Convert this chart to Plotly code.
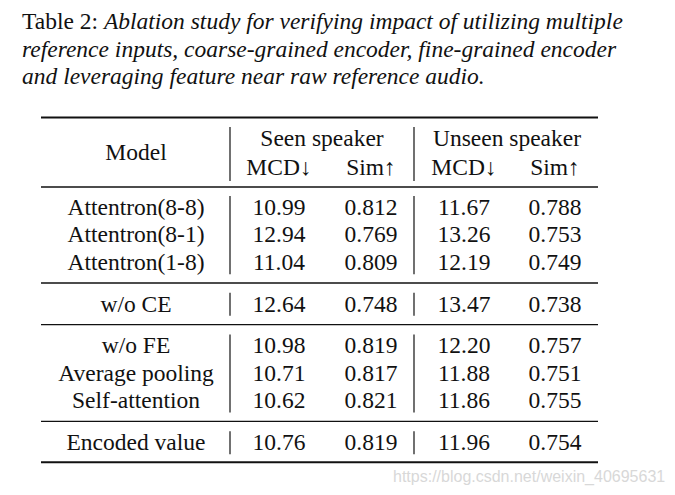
import plotly.graph_objects as go

# ---------------- data ----------------
caption_label = "Table 2:"
caption_lines = [
    "Ablation study for verifying impact of utilizing multiple",
    "reference inputs, coarse-grained encoder, fine-grained encoder",
    "and leveraging feature near raw reference audio.",
]
header_model = "Model"
group_headers = ["Seen speaker", "Unseen speaker"]
metric_headers = ["MCD↓", "Sim↑", "MCD↓", "Sim↑"]

models = ["Attentron(8-8)", "Attentron(8-1)", "Attentron(1-8)",
          "w/o CE",
          "w/o FE", "Average pooling", "Self-attention",
          "Encoded value"]
row_groups = [0, 0, 0, 1, 2, 2, 2, 3]
seen_mcd = ["10.99", "12.94", "11.04", "12.64", "10.98", "10.71", "10.62", "10.76"]
seen_sim = ["0.812", "0.769", "0.809", "0.748", "0.819", "0.817", "0.821", "0.819"]
unseen_mcd = ["11.67", "13.26", "12.19", "13.47", "12.20", "11.88", "11.86", "11.96"]
unseen_sim = ["0.788", "0.753", "0.749", "0.738", "0.757", "0.751", "0.755", "0.754"]
watermark = "https://blog.csdn.net/weixin_40695631"

# ---------------- layout / style ----------------
W, H = 675, 495
PAGE_MARGIN = 8  # default body margin of the html page
SERIF = "Liberation Serif"
FS = 23.5
CAP_FS = 23.5
INK = "#111111"
col_x = [136, 279, 371, 464, 555]
group_x = [322, 507]
vline_x = [230, 414]
tbl_left, tbl_right = 41, 598
row0_y, row_step, group_gap = 209, 27.6, 14
hdr1_y, hdr2_y = 140, 169

row_y = [row0_y + row_step * i + group_gap * g for i, g in enumerate(row_groups)]

fig = go.Figure()

columns = [models, seen_mcd, seen_sim, unseen_mcd, unseen_sim]
for cx, vals in zip(col_x, columns):
    fig.add_trace(go.Scatter(
        x=[cx] * len(vals), y=row_y, text=vals, mode="text",
        textposition="middle center",
        textfont=dict(family=SERIF, size=FS, color=INK),
        hoverinfo="skip", showlegend=False))

# header
fig.add_trace(go.Scatter(
    x=[col_x[0]] + group_x, y=[(hdr1_y + hdr2_y) / 2, hdr1_y, hdr1_y],
    text=[header_model] + group_headers, mode="text",
    textposition="middle center",
    textfont=dict(family=SERIF, size=FS, color=INK),
    hoverinfo="skip", showlegend=False))
fig.add_trace(go.Scatter(
    x=col_x[1:], y=[hdr2_y] * 4, text=metric_headers, mode="text",
    textposition="middle center",
    textfont=dict(family=SERIF, size=FS, color=INK),
    hoverinfo="skip", showlegend=False))

shapes = []
def hrule(y, w):
    shapes.append(dict(type="line", xref="x", yref="y", x0=tbl_left, x1=tbl_right,
                       y0=y, y1=y, line=dict(color=INK, width=w)))
def vrule(y0, y1):
    for vx in vline_x:
        shapes.append(dict(type="line", xref="x", yref="y", x0=vx, x1=vx,
                           y0=y0, y1=y1, line=dict(color=INK, width=1.2)))

hrule(117.5, 2)
hrule(187, 1.4)
vrule(127, 181)
ngroups = max(row_groups) + 1
for g in range(ngroups):
    ys = [y for y, gg in zip(row_y, row_groups) if gg == g]
    vrule(ys[0] - 13, ys[-1] + 10)
    if g < ngroups - 1:
        nxt = [y for y, gg in zip(row_y, row_groups) if gg == g + 1][0]
        hrule((ys[-1] + nxt) / 2 - 2, 1.4)
hrule(row_y[-1] + 18, 2)

annotations = []
cap_y = [21, 48.5, 76]
annotations.append(dict(
    x=20, y=cap_y[0], xref="x", yref="y", xanchor="left", yanchor="middle",
    showarrow=False,
    text=caption_label + " <i>" + caption_lines[0] + "</i>",
    font=dict(family=SERIF, size=CAP_FS, color=INK)))
for ln, cy in zip(caption_lines[1:], cap_y[1:]):
    annotations.append(dict(
        x=20, y=cy, xref="x", yref="y", xanchor="left", yanchor="middle",
        showarrow=False, text="<i>" + ln + "</i>",
        font=dict(family=SERIF, size=CAP_FS, color=INK)))
annotations.append(dict(
    x=667, y=477, xref="x", yref="y", xanchor="right", yanchor="middle",
    showarrow=False, text=watermark,
    font=dict(family="Liberation Sans", size=16, color="#d8d8d8")))

PW, PH = W - 2 * PAGE_MARGIN, H - 2 * PAGE_MARGIN
fig.update_layout(
    width=PW, height=PH, margin=dict(l=0, r=0, t=0, b=0),
    paper_bgcolor="white", plot_bgcolor="white",
    xaxis=dict(range=[PAGE_MARGIN, PAGE_MARGIN + PW], visible=False, fixedrange=True),
    yaxis=dict(range=[PAGE_MARGIN + PH, PAGE_MARGIN], visible=False, fixedrange=True),
    shapes=shapes, annotations=annotations, showlegend=False)

fig.write_html("out.html", config={"displayModeBar": False})
